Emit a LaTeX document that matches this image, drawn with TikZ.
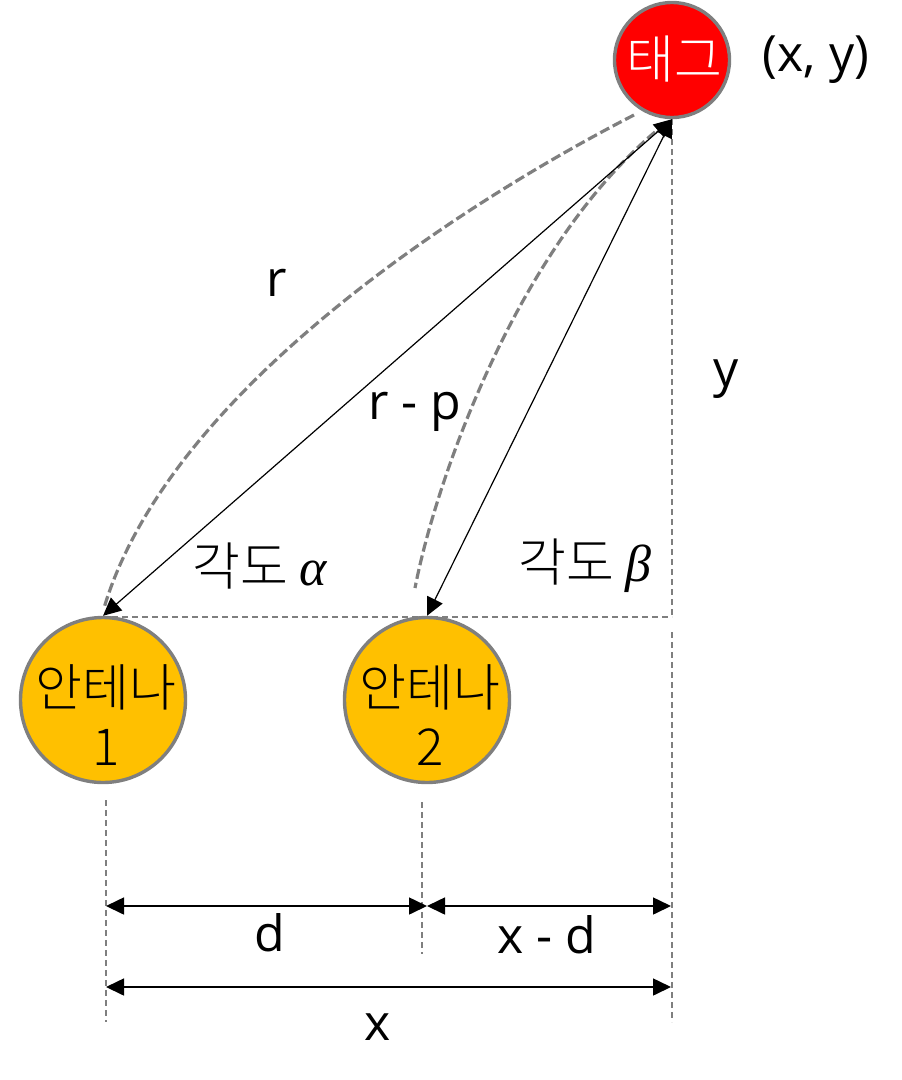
\documentclass[tikz,border=0pt]{standalone}
\usepackage{fontspec}
\usetikzlibrary{arrows.meta}
\setmainfont{Open Sans}
\newfontfamily\kor{Noto Sans CJK KR Light}
\newfontfamily\grk{Liberation Serif}
\definecolor{gline}{HTML}{7F7F7F}
\definecolor{amber}{HTML}{FFC000}
\newcommand{\antlabel}[1]{\smash{\makebox[0pt]{\hspace*{6pt}\raisebox{-21pt}{\parbox{150pt}{\centering\kor 안테나\\[-1pt]#1}}}}}
\tikzset{
  x=1pt,y=-1pt,
  lab/.style={inner sep=0pt,font=\fontsize{50}{54}\selectfont},
  kolab/.style={inner sep=0pt,font=\fontsize{52}{56}\selectfont},
  antenna/.style={circle,draw=gline,line width=3.4pt,fill=amber,minimum size=165pt,inner sep=0pt,align=center,font=\fontsize{51}{60}\selectfont},
  tagnode/.style={circle,draw=gline,line width=3.4pt,fill=red,text=white,minimum size=115pt,inner sep=0pt,font=\fontsize{52}{56}\selectfont},
  thin dim/.style={draw=gline,line width=1.2pt,dash pattern=on 6pt off 4pt},
  arc dash/.style={draw=gline,line width=3.2pt,dash pattern=on 10pt off 4pt},
  link/.style={draw=black,line width=1.2pt,{Triangle[length=18pt,width=17pt]}-{Triangle[length=18pt,width=17pt]}},
  span/.style={draw=black,line width=1.6pt,{Triangle[length=18pt,width=17pt]}-{Triangle[length=18pt,width=17pt]}},
}
\begin{document}
\begin{tikzpicture}
\useasboundingbox (0,0) rectangle (902,1080);
\node[tagnode] (tag) at (672,60) {\smash{\makebox[0pt]{\kor\hspace*{4pt}\raisebox{-18pt}{태그}}}};
\node[antenna] (ant1) at (103,700) {\antlabel{1}};
\node[antenna] (ant2) at (427,700) {\antlabel{2}};
\coordinate (corner) at (672,617);
\coordinate (hstart) at (112,617);
\coordinate (c1s) at (634,115);
\coordinate (c1e) at (104,608);
\coordinate (c2s) at (655,132);
\coordinate (c2e) at (415,588);
\coordinate (v0) at (672,632);
\coordinate (v0e) at (672,1022);
\coordinate (v1) at (106,800);
\coordinate (v1e) at (106,1022);
\coordinate (v2) at (422,802);
\coordinate (v2e) at (422,954);
\coordinate (dl) at (106,906);
\coordinate (dm) at (427,906);
\coordinate (dr) at (671,906);
\coordinate (xl) at (106,987);
\coordinate (xr) at (671,987);
% dashed guides
\draw[thin dim] (tag.south) -- (corner);
\draw[thin dim] (hstart) -- (corner);
\draw[thin dim] (v0) -- (v0e);
\draw[thin dim] (v1) -- (v1e);
\draw[thin dim] (v2) -- (v2e);
% dashed arcs
\draw[arc dash] (c1s) .. controls (474,197) and (170,387) .. (c1e);
\draw[arc dash] (c2s) .. controls (515,251) and (435,484) .. (c2e);
% arrows
\draw[link] (ant1.north) -- (tag.south);
\draw[link] (ant2.north) -- (tag.south);
\draw[span] (dl) -- (dm);
\draw[span] (dm) -- (dr);
\draw[span] (xl) -- (xr);
% labels
\node[lab] (lxy) at (816,60) {(x, y)};
\node[lab] (lr) at (277,283) {r};
\node[lab] (ly) at (726,379) {y};
\node[lab] (lrp) at (415,412) {r - p};
\node[kolab] (la) at (260,566) {\kor 각도 {\grk\itshape α}};
\node[kolab] (lb) at (585,566) {\kor 각도 {\grk\itshape β}};
\node[lab] (ld) at (270,933) {d};
\node[lab] (lxd) at (547,935) {x - d};
\node[lab] (lx) at (378,1027) {x};
\end{tikzpicture}
\end{document}
